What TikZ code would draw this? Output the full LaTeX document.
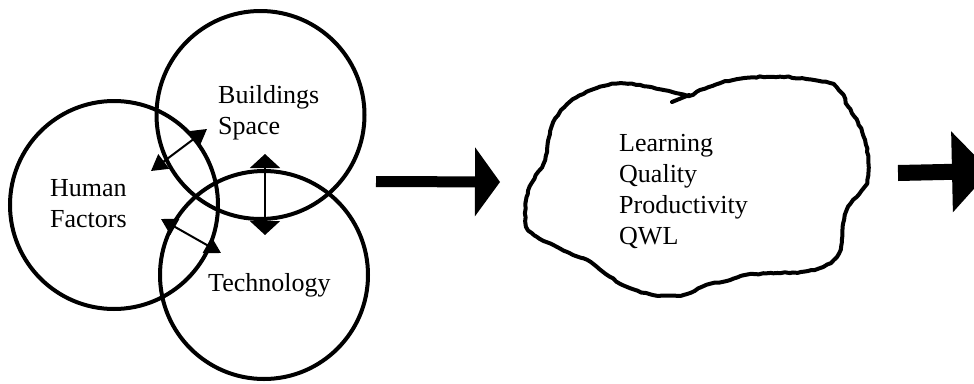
\documentclass[tikz,border=0pt]{standalone}
\usepackage{fontspec}
\setmainfont{Liberation Serif}
\usetikzlibrary{arrows.meta,decorations.pathmorphing}
\begin{document}
\begin{tikzpicture}[x=1pt,y=-1pt,
  ring/.style={draw, circle, line width=4pt, minimum size=208pt, inner sep=0pt},
  lbl/.style={anchor=base west, inner sep=0pt, font=\fontsize{26pt}{31pt}\selectfont},
  link/.style={line width=2pt, {Triangle[length=16pt,width=18pt]}-{Triangle[length=16pt,width=18pt]}},
  vlink/.style={line width=2pt, {Triangle[length=14pt,width=30pt]}-{Triangle[length=14pt,width=30pt]}},
  blockarrow/.style={line width=#1}
]
\useasboundingbox (0,0) rectangle (974,383);
\pgfmathsetseed{7}

% circles
\node[ring] (hf) at (114,205) {};
\node[ring] (bs) at (260.5,115) {};
\node[ring] (tech) at (264,275) {};

% labels
\node[lbl] (lb1) at (218,103) {Buildings};
\node[lbl] (lb2) at (218,134) {Space};
\node[lbl] (lh1) at (50,196) {Human};
\node[lbl] (lh2) at (50,227) {Factors};
\node[lbl] (lt) at (208,291) {Technology};

% double arrows between circles
\coordinate (p1a) at (151,171);
\coordinate (p1b) at (207,129);
\coordinate (p2a) at (265,154);
\coordinate (p2b) at (265,235);
\coordinate (p3a) at (161,219);
\coordinate (p3b) at (221,253);
\draw[link] (p1a) -- (p1b);
\draw[vlink] (p2a) -- (p2b);
\draw[link] (p3a) -- (p3b);

% block arrows
\coordinate (a1s) at (376,181.5);
\coordinate (a1e) at (500,182);
\draw[line width=11pt, -{Triangle[length=25pt,width=69pt,line width=0pt]}] (a1s) -- (a1e);
\coordinate (a2s) at (898,173);
\coordinate (a2e) at (990,171);
\draw[line width=16pt, -{Triangle[length=38pt,width=81pt,line width=0pt]}] (a2s) -- (a2e);

% cloud
\draw[line width=4pt, line join=round, decorate, decoration={random steps, segment length=4pt, amplitude=0.6pt}]
  plot[smooth cycle, tension=0.55] coordinates {
  (688,95) (660,89.3) (640,85) (620,83.3) (600,86.7) (586.7,91.7) (570,101.7)
  (560,111.7) (551.7,126.7) (548.3,140) (545,160) (538.3,171.7) (531.7,183.3)
  (526.7,196.7) (525,213.3) (526.7,226.7) (536.7,236.7) (553.3,245) (570,253.3)
  (583.3,258.3) (596.7,266.7) (610,276.7) (626.7,286.7) (653.3,295) (683.3,295)
  (706.7,285) (730,280) (746.7,275) (773.3,273.3) (803.3,271.7) (823.3,266.7)
  (836.7,256.7) (841.7,243.3) (843.3,223.3) (848.3,206.7) (856.7,196.7)
  (866.7,183.3) (868.3,160) (865,140) (858.3,123.3) (848.3,106.7) (841.7,93.3)
  (830,83.3) (800,78.3) (780,76.7) (753.3,77.3) (733.3,80) (720,83.3) (700,90)};
\coordinate (tailA) at (689,95);
\coordinate (tailB) at (672,102);
\draw[line width=4pt, line cap=round] (tailA) -- (tailB);

\node[lbl] (c1) at (619,151.5) {Learning};
\node[lbl] (c2) at (619,182.5) {Quality};
\node[lbl] (c3) at (619,213) {Productivity};
\node[lbl] (c4) at (619,244.5) {QWL};
\end{tikzpicture}
\end{document}
